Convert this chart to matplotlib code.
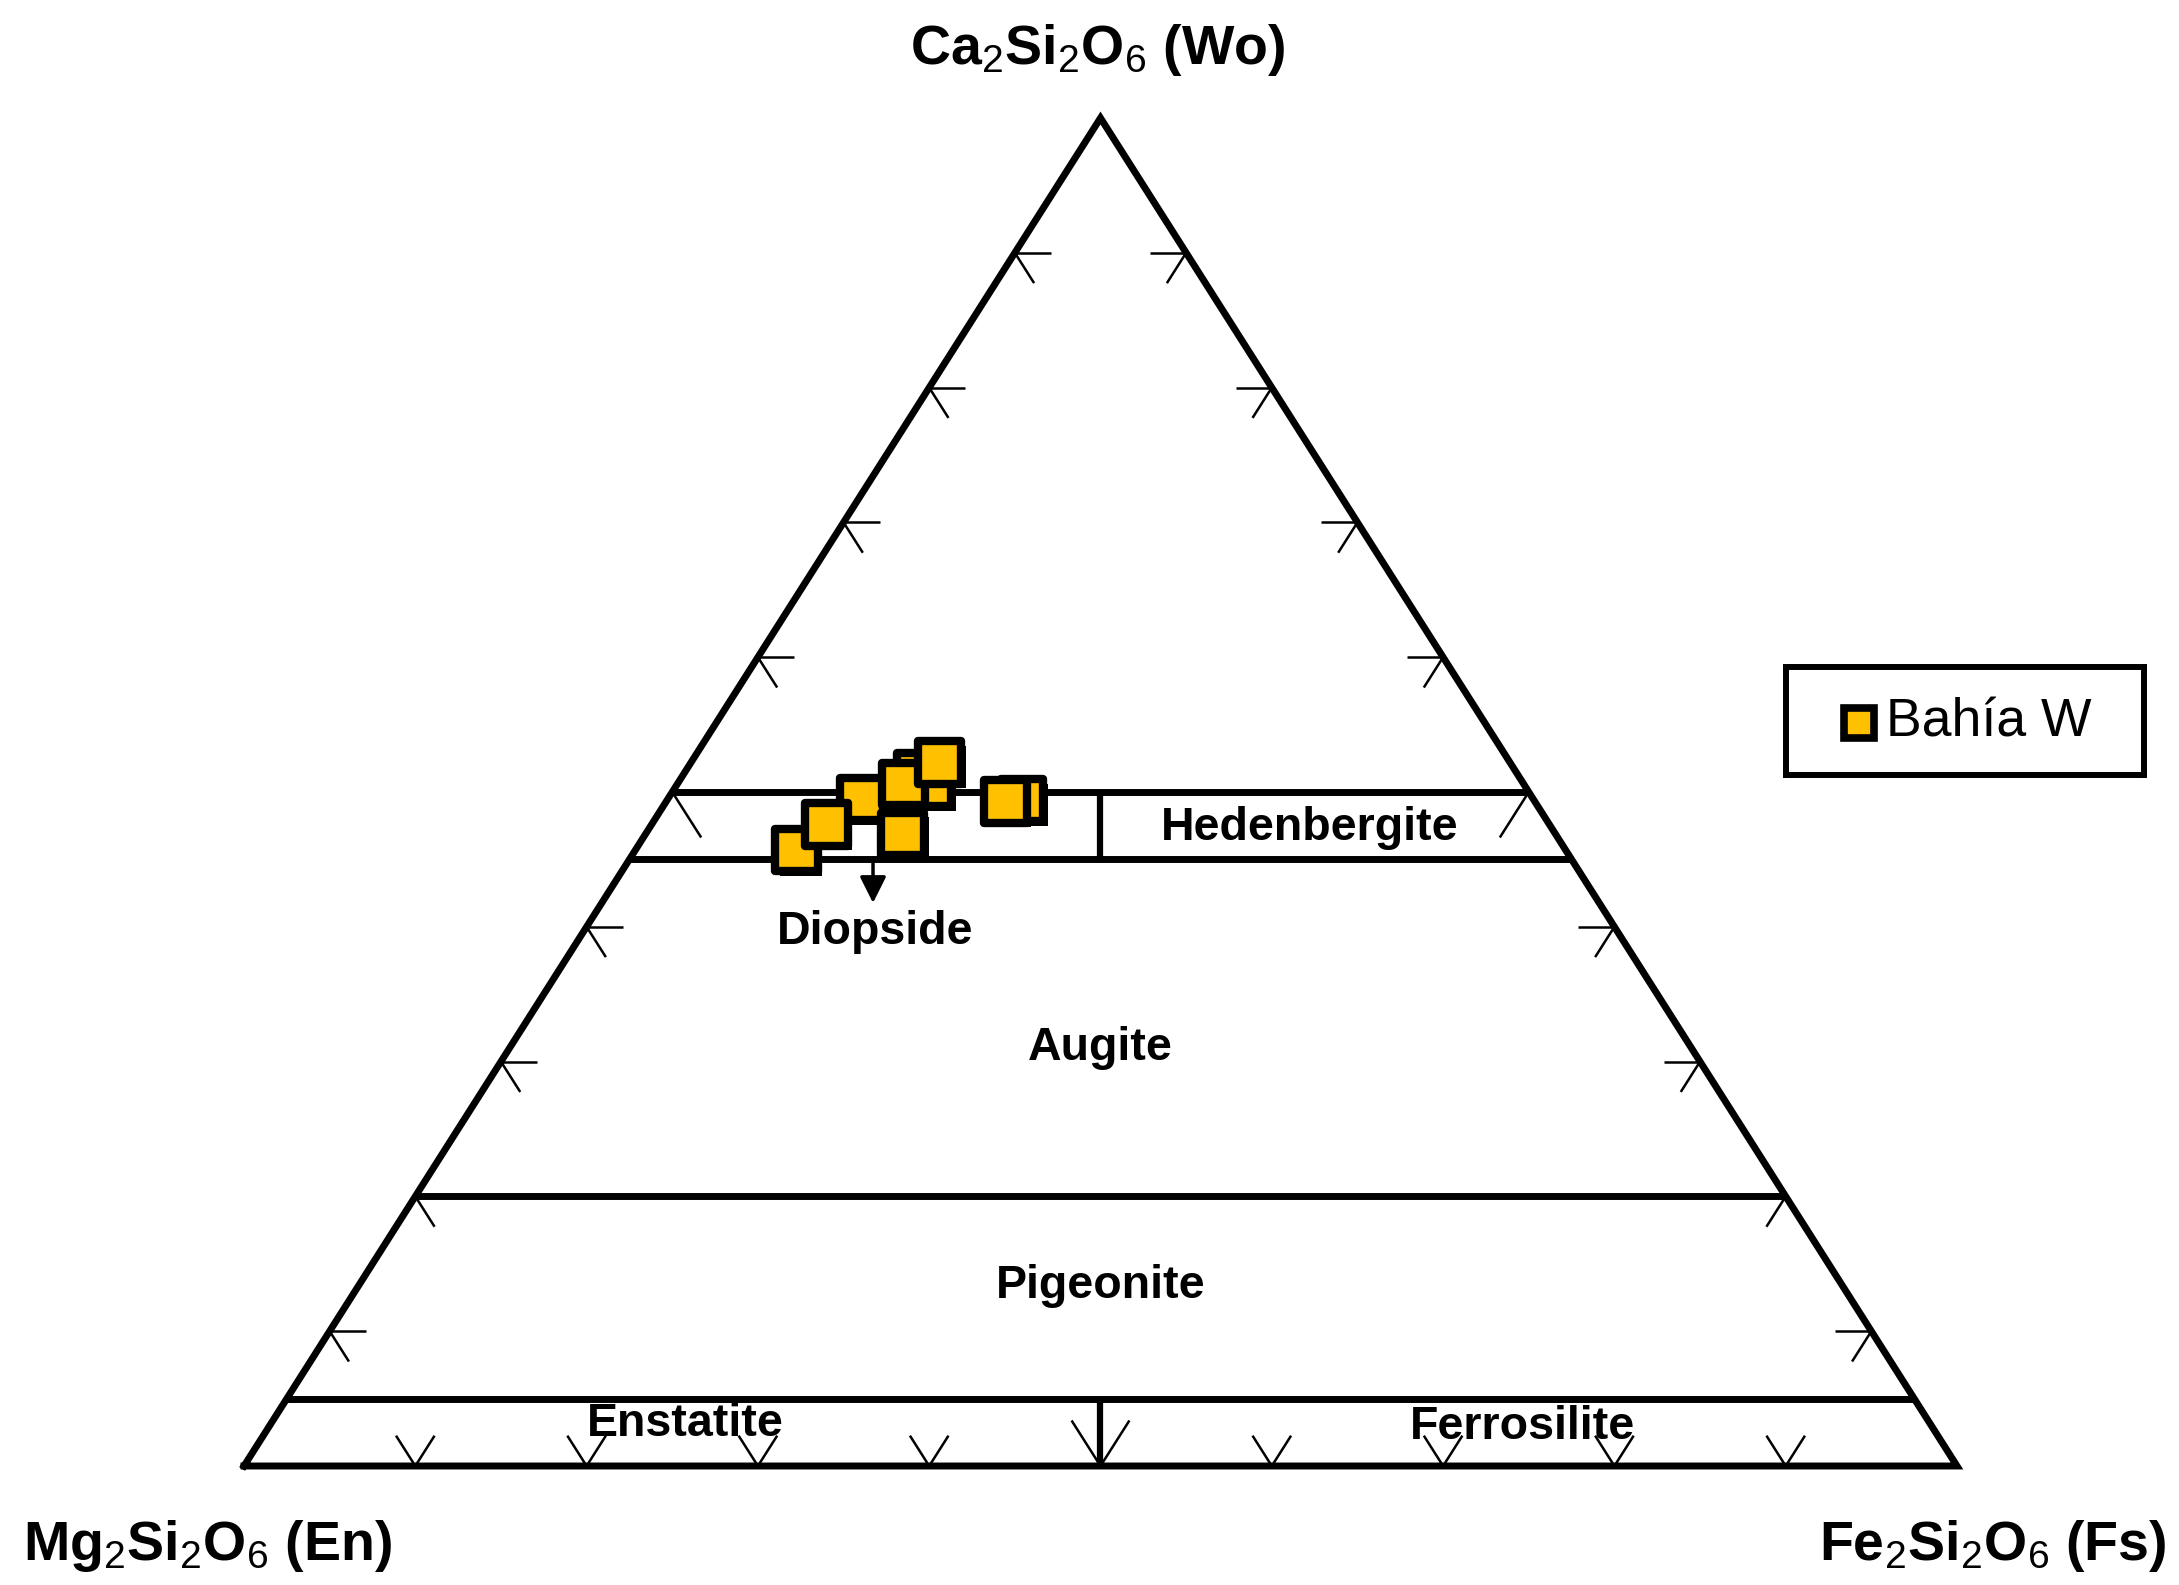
import numpy as np
import matplotlib
matplotlib.use("Agg")
import matplotlib.pyplot as plt
from matplotlib.collections import LineCollection
import matplotlib.patheffects as pe

# ---------------- data ----------------
series_label = "Bahía W"
# pyroxene compositions (mol %), listed back-to-front in drawing order
wo = [49.4, 51.3, 50.5, 49.5, 45.7, 47.6, 46.9, 50.6, 52.2, 49.3]
fs = [20.7, 13.7, 14.8, 11.3, 9.4, 10.2, 15.0, 13.2, 14.5, 19.8]
en = [29.9, 35.0, 34.7, 39.2, 44.9, 42.2, 38.1, 36.2, 33.3, 30.9]

# classification field boundaries (Wo %)
field_wo = [50, 45, 20, 5]
# En = Fs dividers between (Wo_low, Wo_high)
dividers = [(45, 50), (0, 5)]
field_names = ["Hedenbergite", "Diopside", "Augite", "Pigeonite", "Enstatite", "Ferrosilite"]
tick_values = [10, 20, 30, 40, 50, 60, 70, 80, 90]

apex_labels = ["Ca$_2$Si$_2$O$_6$ (Wo)", "Mg$_2$Si$_2$O$_6$ (En)", "Fe$_2$Si$_2$O$_6$ (Fs)"]

# ---------------- style ----------------
plt.rcParams["font.family"] = ["Liberation Sans", "DejaVu Sans"]
plt.rcParams["mathtext.fontset"] = "custom"
plt.rcParams["mathtext.rm"] = "Liberation Sans"
plt.rcParams["mathtext.it"] = "Liberation Sans:italic"
plt.rcParams["mathtext.bf"] = "Liberation Sans:bold"

W, H = 2179, 1585
fig = plt.figure(figsize=(W / 100, H / 100), dpi=100)
ax = fig.add_axes([0, 0, 1, 1])
ax.set_xlim(-244 / 1713, (W - 244) / 1713)
ax.set_ylim(-119 / 1348, (H - 119) / 1348)
ax.axis("off")


def tern(w, e, f):
    w = np.asarray(w, float); e = np.asarray(e, float); f = np.asarray(f, float)
    t = w + e + f
    return (f + w / 2) / t, w / t


def edge_x(wv, side):
    w = wv / 100.0
    return w / 2 if side == "left" else 1 - w / 2


# triangle outline
tx, ty = tern([0, 100, 0, 0], [100, 0, 0, 100], [0, 0, 100, 0])
ax.plot(tx, ty, color="black", lw=5, solid_joinstyle="miter", zorder=3)

# field boundaries
for wv in field_wo:
    w = wv / 100
    ax.plot([edge_x(wv, "left"), edge_x(wv, "right")], [w, w], color="black", lw=5,
            solid_capstyle="butt", zorder=3)
for lo, hi in dividers:
    ax.plot([0.5, 0.5], [lo / 100, hi / 100], color="black", lw=4.5, solid_capstyle="butt", zorder=3)

# ternary ticks
segs = []
dh, dd = 0.021, 0.0225
for v in tick_values:
    k = 1.5 if v == 50 else 1.0
    w = v / 100
    # left edge
    x0 = w / 2
    segs.append([(x0, w), (x0 + dh * k, w)])
    segs.append([(x0, w), (x0 + 0.5 * dd * k, w - dd * k)])
    # right edge
    x1 = 1 - w / 2
    segs.append([(x1, w), (x1 - dh * k, w)])
    segs.append([(x1, w), (x1 - 0.5 * dd * k, w - dd * k)])
    # bottom edge
    f = v / 100
    segs.append([(f, 0), (f - 0.5 * dd * k, dd * k)])
    segs.append([(f, 0), (f + 0.5 * dd * k, dd * k)])
ax.add_collection(LineCollection(segs, colors="black", linewidths=1.8, zorder=2))

# field labels
label_pos = {
    "Hedenbergite": (0.6223, 0.4733),
    "Diopside": (0.3687, 0.3958),
    "Augite": (0.5, 0.3101),
    "Pigeonite": (0.5, 0.1339),
    "Enstatite": (0.2574, 0.0312),
    "Ferrosilite": (0.7466, 0.0289),
}
for name in field_names:
    x, y = label_pos[name]
    ax.text(x, y, name, ha="center", va="center", fontsize=33.5, fontweight="bold", zorder=4)

# Diopside arrow
ax.annotate("", xy=(0.3672, 0.4177), xytext=(0.3672, 0.45),
            arrowprops=dict(arrowstyle="-|>", color="black", lw=2.5, mutation_scale=40,
                            shrinkA=0, shrinkB=0), zorder=4)

# data points
px, py = tern(wo, en, fs)
shadow = [pe.SimplePatchShadow(offset=(3.5, -3.5), shadow_rgbFace="black", alpha=1.0), pe.Normal()]
sc = ax.scatter(px, py, s=30.5 ** 2, marker="s", facecolor="#FFC000", edgecolor="black",
                linewidths=6, zorder=5)
sc.set_path_effects(shadow)

# apex labels
fig.text(1098 / W, 1 - 64 / H, apex_labels[0], ha="center", va="baseline", fontsize=40,
         fontweight="bold")
fig.text(208 / W, 1 - 1560 / H, apex_labels[1], ha="center", va="baseline", fontsize=40,
         fontweight="bold")
fig.text(1993 / W, 1 - 1560 / H, apex_labels[2], ha="center", va="baseline", fontsize=40,
         fontweight="bold")

# legend box
lx0, ly0, lx1, ly1 = 1786, 667, 2144, 775
lax = fig.add_axes([lx0 / W, 1 - ly1 / H, (lx1 - lx0) / W, (ly1 - ly0) / H])
lax.set_xlim(0, 1); lax.set_ylim(0, 1)
lax.set_xticks([]); lax.set_yticks([])
for s in lax.spines.values():
    s.set_linewidth(4.3)
    s.set_color("black")
lax.plot([0.205], [0.485], marker="s", ms=21.6, mfc="#FFC000", mec="black", mew=5.5, ls="none")
lax.text(0.279, 0.49, series_label, ha="left", va="center", fontsize=38.5)

fig.savefig("out.png", dpi=100)
